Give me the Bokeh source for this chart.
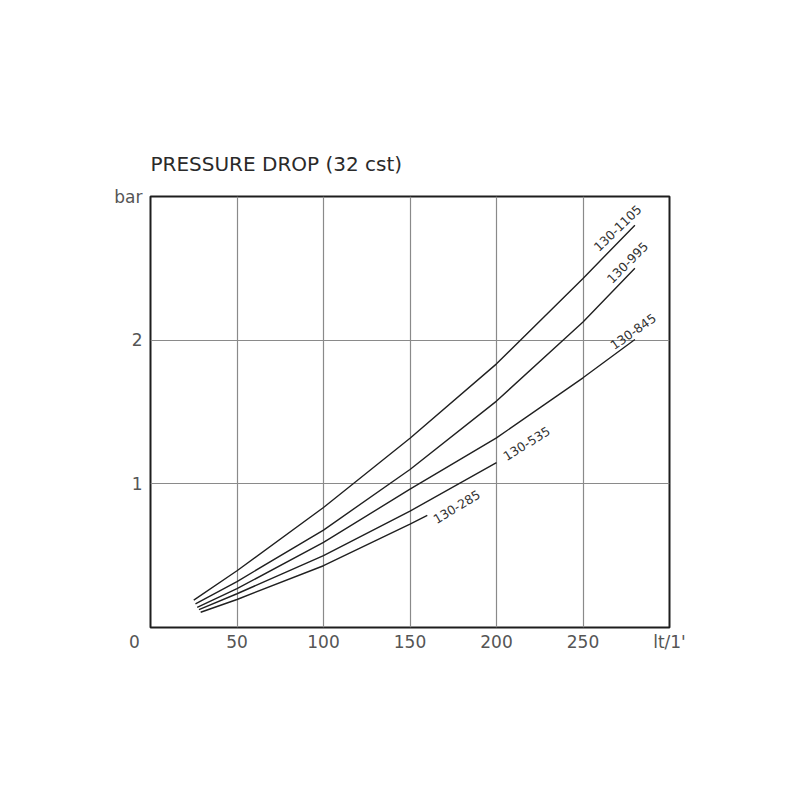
from bokeh.plotting import figure
from bokeh.models import FixedTicker, ColumnDataSource, Range1d
from bokeh.core.properties import value
from bokeh.embed import file_html
from bokeh.resources import INLINE
import math

# ---- data ----
flow_1105 = [25, 50, 100, 150, 200, 250, 280]
drop_1105 = [0.19, 0.395, 0.835, 1.317, 1.835, 2.43, 2.80]

flow_995 = [26, 50, 100, 150, 200, 250, 280]
drop_995 = [0.165, 0.32, 0.678, 1.10, 1.576, 2.127, 2.50]

flow_845 = [27, 50, 100, 150, 200, 250, 280]
drop_845 = [0.14, 0.27, 0.592, 0.963, 1.32, 1.738, 2.005]

flow_535 = [28, 50, 100, 150, 200]
drop_535 = [0.125, 0.235, 0.50, 0.81, 1.148]

flow_285 = [29, 50, 100, 150, 160]
drop_285 = [0.106, 0.195, 0.43, 0.72, 0.78]

series_names = ["130-1105", "130-995", "130-845", "130-535", "130-285"]
label_x = [270, 275.7, 279, 217.4, 177]
label_y = [2.78, 2.54, 2.06, 1.28, 0.84]
label_angle_deg = [44, 45, 35, 32, 31]

x_ticks = [0, 50, 100, 150, 200, 250, 300]
x_tick_labels = ["0", "50", "100", "150", "200", "250", "lt/1'"]
y_ticks = [1, 2, 3]
y_tick_labels = ["1", "2", "bar"]

title_text = "PRESSURE DROP (32 cst)"

# ---- figure ----
W, H = 784, 784
FL, FT, FW, FH = 150, 196, 519, 431
p = figure(width=W, height=H, output_backend="svg", toolbar_location=None,
           x_range=Range1d(0, 300), y_range=Range1d(0, 3))
p.min_border_left = FL
p.min_border_right = W - FL - FW
p.min_border_top = FT
p.min_border_bottom = H - FT - FH
p.background_fill_color = "white"
p.border_fill_color = "white"
p.outline_line_color = "#1e1e1e"
p.outline_line_width = 2

# title
p.title.text = title_text
p.title.align = "left"
p.title.text_font = "DejaVu Sans"
p.title.text_font_size = "20px"
p.title.text_font_style = "normal"
p.title.text_color = "#2a2a2a"
p.title.standoff = 41

# grid
p.xgrid.ticker = FixedTicker(ticks=[50, 100, 150, 200, 250])
p.ygrid.ticker = FixedTicker(ticks=[1, 2])
p.xgrid.grid_line_color = "#8a8a8a"
p.ygrid.grid_line_color = "#8a8a8a"
p.xgrid.grid_line_width = 1.2
p.ygrid.grid_line_width = 1.2

# axes
tick_font = "DejaVu Sans"
for ax in (p.xaxis[0], p.yaxis[0]):
    ax.axis_line_color = None
    ax.major_tick_line_color = None
    ax.minor_tick_line_color = None
    ax.major_label_text_font = tick_font
    ax.major_label_text_font_size = "17px"
    ax.major_label_text_color = "#555555"

# the origin "0" sits left of the corner: pad it with non-breaking spaces
NBSP = "\u00a0"
x_overrides = {t: l for t, l in zip(x_ticks, x_tick_labels)}
x_overrides[0] = x_overrides[0] + NBSP * 6

p.xaxis[0].ticker = FixedTicker(ticks=x_ticks)
p.xaxis[0].major_label_overrides = x_overrides
p.xaxis[0].major_label_standoff = -2
p.yaxis[0].ticker = FixedTicker(ticks=y_ticks)
p.yaxis[0].major_label_overrides = {t: l for t, l in zip(y_ticks, y_tick_labels)}
p.yaxis[0].major_label_standoff = 2

# curves
curves = [(flow_1105, drop_1105), (flow_995, drop_995), (flow_845, drop_845),
          (flow_535, drop_535), (flow_285, drop_285)]
for fx, fy in curves:
    p.line(fx, fy, line_color="#202020", line_width=1.4)

# curve labels
src = ColumnDataSource(dict(x=label_x, y=label_y, t=series_names,
                            a=[math.radians(d) for d in label_angle_deg]))
p.text(x="x", y="y", text="t", angle="a", source=src,
       text_font=value("DejaVu Sans"), text_font_size="12.5px",
       text_color="#333333", text_align="center", text_baseline="middle")

open("out.html", "w").write(file_html(p, INLINE))
